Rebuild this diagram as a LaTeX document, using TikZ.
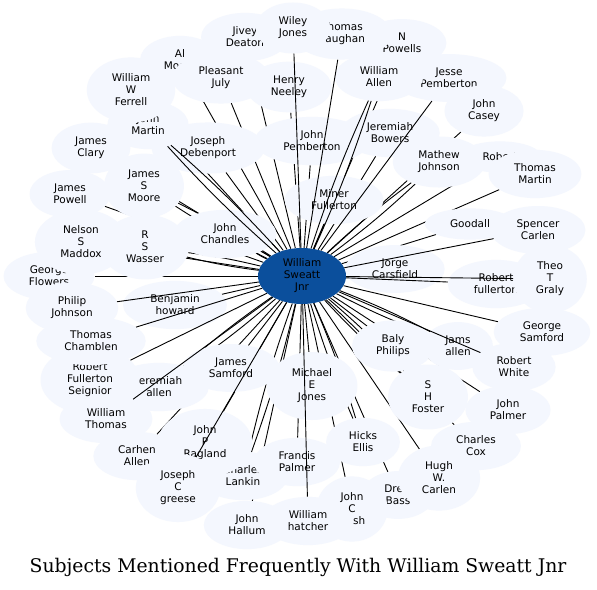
\documentclass[tikz,border=0pt]{standalone}
\usepackage{fontspec}
\setmainfont{DejaVu Sans}
\newfontfamily\titlefont{DejaVu Serif}
\usetikzlibrary{shapes.geometric}
\definecolor{pale}{RGB}{244,247,254}
\definecolor{hubblue}{RGB}{11,79,156}
\pgfdeclarelayer{bg}
\pgfsetlayers{bg,main}
\newcommand\nodefont{\fontsize{10.5}{12}\selectfont}
\tikzset{
  nd/.style={ellipse, fill=pale, inner xsep=12pt, inner ysep=7pt, align=center, font=\nodefont},
  hubnode/.style={ellipse, fill=hubblue, minimum width=88pt, minimum height=56pt, inner sep=0pt, align=center, font=\nodefont},
  ed/.style={draw=black, line width=0.9pt},
  titlestyle/.style={font=\titlefont\fontsize{18.8}{22}\selectfont, inner sep=0pt}
}
\newcommand\sedge[1]{\draw[ed] (hub) -- (#1);}
\newcommand\dedge[1]{\draw[ed] (hub) to[bend left=3] (#1); \draw[ed] (hub) to[bend right=3] (#1);}
\begin{document}
\begin{tikzpicture}[x=1pt,y=-1pt]
\useasboundingbox (0,0) rectangle (597,589);
\begin{pgfonlayer}{bg}
\fill[white] (0,0) rectangle (597,589);
\end{pgfonlayer}
\node[hubnode] (hub) at (302,276) {William\\Sweatt\\Jnr};
% nodes in drawing order
\node[nd] (jch) at (225,234) {John\\Chandles};
\node[nd] (jca) at (395,269) {Jorge\\Carsfield};
\node[nd] (mfu) at (334,200) {Miner\\Fullerton};
\node[nd] (mej) at (312,386) {Michael\\E\\Jones};
\node[nd] (jsa) at (231,368) {James\\Samford};
\node[nd] (bph) at (393,346) {Baly\\Philips};
\node[nd] (bho) at (175,305) {Benjamin\\howard};
\node[nd] (jpe) at (312,141) {John\\Pemberton};
\node[nd] (jde) at (208,148) {Joseph\\Debenport};
\node[nd] (hne) at (289,87) {Henry\\Neeley};
\node[nd] (jbo) at (390,133) {Jeremiah\\Bowers};
\node[nd] (mjo) at (439,162) {Mathew\\Johnson};
\node[nd] (goo) at (470,224) {Goodall};
\node[nd] (rsw) at (145,247) {R\\S\\Wasser};
\node[nd] (jsm) at (144,186) {James\\S\\Moore};
\node[nd] (jal) at (458,346) {Jams\\allen};
\node[nd] (cco) at (476,446) {Charles\\Cox};
\node[nd] (shf) at (428,397) {S\\H\\Foster};
\node[nd] (hel) at (363,442) {Hicks\\Ellis};
\node[nd] (cla) at (243,476) {Charles\\Lankin};
\node[nd] (fpa) at (297,462) {Francis\\Palmer};
\node[nd] (jpr) at (205,443) {John\\P\\Ragland};
\node[nd] (jea) at (159,387) {Jeremiah\\allen};
\node[nd] (rfu) at (496,284) {Robert\\fullerton};
\node[nd] (amo) at (180,60) {Al\\Moore};
\node[nd] (pju) at (221,78) {Pleasant\\July};
\node[nd] (jpb) at (449,78) {Jesse\\Pemberton};
\node[nd] (wal) at (379,77) {William\\Allen};
\node[nd] (jma) at (148,125) {John\\Martin};
\node[nd] (wwf) at (131,90) {William\\W\\Ferrell};
\node[nd] (jcl) at (91,148) {James\\Clary};
\node[nd] (jpo) at (70,194) {James\\Powell};
\node[nd] (gfl) at (49,276) {George\\Flowers};
\node[nd] (nsm) at (81,242) {Nelson\\S\\Maddox};
\node[nd] (pjo) at (72,308) {Philip\\Johnson};
\node[nd] (rfs) at (90,380) {Robert\\Fullerton\\Seignior};
\node[nd] (tch) at (91,341) {Thomas\\Chamblen};
\node[nd] (wth) at (106,419) {William\\Thomas};
\node[nd] (cal) at (137,456) {Carhen\\Allen};
\node[nd] (jcg) at (178,488) {Joseph\\C\\greese};
\node[nd] (jha) at (247,525) {John\\Hallum};
\node[nd] (dba) at (398,495) {Drew\\Bass};
\node[nd] (jcn) at (352,509) {John\\C\\Nash};
\node[nd] (wha) at (308,521) {William\\hatcher};
\node[nd] (hwc) at (439,478) {Hugh\\W.\\Carlen};
\node[nd] (jpa) at (508,410) {John\\Palmer};
\node[nd] (rwh) at (514,367) {Robert\\White};
\node[nd] (gsa) at (542,332) {George\\Samford};
\node[nd] (ttg) at (550,279) {Theo\\T\\Graly};
\node[nd] (rob) at (500,157) {Robert};
\node[nd] (tma) at (535,174) {Thomas\\Martin};
\node[nd] (sca) at (538,230) {Spencer\\Carlen};
\node[nd] (jcs) at (484,111) {John\\Casey};
\node[nd] (jiv) at (245,37) {Jivey\\Deaton};
\node[nd] (npo) at (402,43) {N\\Powells};
\node[nd] (tva) at (342,34) {Thomas\\Vaughan};
\node[nd] (wjo) at (293,28) {Wiley\\Jones};
% connectors hidden under the nodes
\begin{pgfonlayer}{bg}
\dedge{jch}
\sedge{jca}
\sedge{mfu}
\sedge{mej}
\sedge{jsa}
\sedge{bph}
\sedge{bho}
\sedge{jpe}
\sedge{jde}
\sedge{hne}
\sedge{jbo}
\dedge{mjo}
\sedge{goo}
\dedge{rsw}
\dedge{jsm}
\dedge{jal}
\sedge{cco}
\dedge{shf}
\dedge{hel}
\dedge{cla}
\sedge{fpa}
\sedge{jpr}
\dedge{jea}
\sedge{amo}
\sedge{pju}
\sedge{wwf}
\sedge{jcl}
\sedge{jpo}
\sedge{gfl}
\sedge{nsm}
\sedge{cal}
\sedge{jha}
\sedge{dba}
\sedge{jcn}
\sedge{hwc}
\sedge{jpa}
\sedge{gsa}
\sedge{rob}
\sedge{tma}
\sedge{jcs}
\sedge{jiv}
\sedge{npo}
\end{pgfonlayer}
% connectors drawn over other nodes
\sedge{wjo}
\sedge{tva}
\dedge{wal}
\sedge{jpb}
\dedge{jma}
\sedge{sca}
\sedge{ttg}
\sedge{rfu}
\sedge{pjo}
\sedge{tch}
\sedge{rfs}
\sedge{wth}
\sedge{rwh}
\sedge{jcg}
\sedge{wha}
\node[titlestyle] (title) at (298,567) {Subjects Mentioned Frequently With William Sweatt Jnr};
\end{tikzpicture}
\end{document}
